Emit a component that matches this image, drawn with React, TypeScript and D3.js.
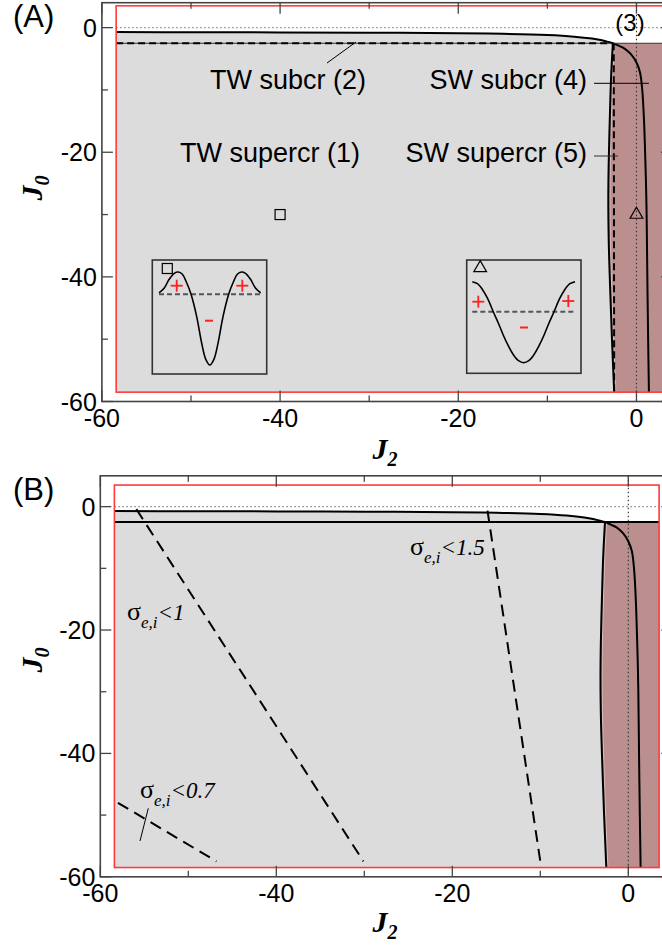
import React from 'react';
import * as d3 from 'd3';

// ---------- data ----------
const J2_MAJOR = [-60, -40, -20, 0];
const J2_MINOR = [-50, -30, -10];
const J0_MAJOR = [0, -20, -40, -60];
const J0_MINOR = [-10, -30, -50];

const RECT_J2 = [-58.4, 3.5];
const RECT_J0 = [-58.5, 3.5];

// upper solid boundary (TW/SW): J2 increasing
const upperJ2 = [-58.4, -50, -40, -30, -20, -15, -10, -7, -5, -4, -3.3, -2.65, -2.0, -1.3, -0.6, 0, 0.4, 0.65, 0.85, 0.97, 1.07, 1.14, 1.22, 1.31, 1.4];
const upperJ0 = [-0.72, -0.74, -0.77, -0.82, -0.9, -1.0, -1.2, -1.45, -1.75, -2.0, -2.25, -2.5, -2.9, -3.4, -4.3, -5.6, -7.2, -10, -15, -20, -25, -30, -40, -50, -58.5];

// left vertical solid boundary
const leftJ2 = [-2.65, -2.85, -3.0, -3.12, -3.16, -3.1, -2.95, -2.75, -2.5];
const leftJ0 = [-2.5, -8, -15, -22, -28, -35, -42, -50, -58.5];

const HLINE_J0 = -2.5;
const dashVJ2 = [-2.55, -2.5];
const dashVJ0 = [-2.5, -58.5];

// sigma contours (panel B)
const sig15J2 = [-16, -10];
const sig15J0 = [-0.65, -57.5];
const sig1J2 = [-55.9, -30.1];
const sig1J0 = [-0.4, -57.5];
const sig07J2 = [-58, -46.8];
const sig07J0 = [-48, -57.5];

// markers
const squareJ2 = -40, squareJ0 = -30;
const triJ2 = 0, triJ0 = -30;

// insets (profiles)
const inset1U = [0, 0.05, 0.10, 0.15, 0.19, 0.23, 0.27, 0.315, 0.37, 0.42, 0.46, 0.5, 0.54, 0.58, 0.63, 0.685, 0.73, 0.77, 0.81, 0.85, 0.90, 0.95, 1];
const inset1V = [1.5, 6, 15, 21, 22.3, 20, 12, 0, -22, -49, -65, -70.7, -65, -49, -22, 0, 12, 20, 22.3, 21, 15, 6, 1.5];
const inset2U = [0, 0.05, 0.1, 0.15, 0.204, 0.25, 0.3, 0.35, 0.4, 0.45, 0.5, 0.55, 0.6, 0.65, 0.7, 0.75, 0.796, 0.85, 0.9, 0.95, 1];
const inset2V = [30, 28, 22, 13, 0, -10.5, -23, -34, -43, -49, -51, -49, -43, -34, -23, -10.5, 0, 13, 22, 28, 30];

// ---------- styles ----------
const GRAY = '#dcdcdc';
const BROWN = '#bc8f8f';
const RED = '#ff3b3b';
const AXIS = '#444';
const SANS = '"Liberation Sans", Arial, sans-serif';
const SERIF = '"Liberation Serif", "Times New Roman", serif';

type PanelProps = {
  kind: 'A' | 'B';
  xDomain: [number, number];
  xRange: [number, number];
  yDomain: [number, number];
  yRange: [number, number];
};

const zip = (a: number[], b: number[]) => a.map((v, i) => [v, b[i]] as [number, number]);

function Panel({ kind, xDomain, xRange, yDomain, yRange }: PanelProps) {
  const x = d3.scaleLinear().domain(xDomain).range(xRange);
  const y = d3.scaleLinear().domain(yDomain).range(yRange);
  const line = d3.line<[number, number]>().x(d => x(d[0])).y(d => y(d[1]));
  const curve = d3.line<[number, number]>().x(d => x(d[0])).y(d => y(d[1])).curve(d3.curveCatmullRom.alpha(0.5));

  const upper = zip(upperJ2, upperJ0);
  const left = zip(leftJ2, leftJ0);
  const upperLeftPart = upper.filter(p => p[0] <= -2.65);

  const grayPoly: [number, number][] = [
    ...upperLeftPart,
    ...left.slice(1),
    [RECT_J2[0], RECT_J0[0]],
  ];
  const brownPoly: [number, number][] = [
    [leftJ2[0], HLINE_J0],
    [RECT_J2[1], HLINE_J0],
    [RECT_J2[1], RECT_J0[0]],
    ...left.slice().reverse(),
  ];

  const xl = x(xDomain[0]);
  const xr = x(xDomain[1]);
  const yb = y(yDomain[0]);
  const yt = y(yDomain[1]);

  const area = d3.line<[number, number]>().x(d => x(d[0])).y(d => y(d[1])).curve(d3.curveLinear);

  const dy = kind === 'A' ? 0 : 473;

  return (
    <g>
      {/* fills */}
      <path d={(area(grayPoly) || '') + 'Z'} fill={GRAY} stroke="none" />
      <path d={(area(brownPoly) || '') + 'Z'} fill={BROWN} stroke="none" />
      {/* light seam next to the left boundary */}
      <path d={curve(left.map(p => [p[0] + 0.18, p[1]] as [number, number])) || ''} fill="none" stroke="#e9d6d6" strokeWidth={0.8} opacity={0.8} />

      {/* dotted reference lines */}
      <line x1={x(RECT_J2[0])} x2={x(RECT_J2[1])} y1={y(0)} y2={y(0)} stroke="#888" strokeWidth={1.4} strokeDasharray="1.5 2.5" />
      <line x1={x(0)} x2={x(0)} y1={yt} y2={yb} stroke="#333" strokeWidth={1.1} strokeDasharray="1.5 2.5" />

      {/* boundaries */}
      <path d={curve(upper) || ''} fill="none" stroke="#000" strokeWidth={2} />
      <path d={curve(left) || ''} fill="none" stroke="#000" strokeWidth={2} />
      {kind === 'A' ? (
        <g>
          <line x1={x(RECT_J2[0])} x2={x(RECT_J2[1])} y1={y(HLINE_J0)} y2={y(HLINE_J0)} stroke="#333" strokeWidth={1.1} />
          <line x1={x(RECT_J2[0])} x2={x(leftJ2[0])} y1={y(HLINE_J0)} y2={y(HLINE_J0)} stroke="#000" strokeWidth={2} strokeDasharray="7 4" />
          <path d={line(zip(dashVJ2, dashVJ0)) || ''} stroke="#000" strokeWidth={2} strokeDasharray="7 4" fill="none" />
        </g>
      ) : (
        <g>
          <line x1={x(RECT_J2[0])} x2={x(RECT_J2[1])} y1={y(HLINE_J0)} y2={y(HLINE_J0)} stroke="#000" strokeWidth={2} />
          <path d={line(zip(sig15J2, sig15J0)) || ''} stroke="#000" strokeWidth={2} strokeDasharray="12 7" fill="none" />
          <path d={line(zip(sig1J2, sig1J0)) || ''} stroke="#000" strokeWidth={2} strokeDasharray="12 7" fill="none" />
          <path d={line(zip(sig07J2, sig07J0)) || ''} stroke="#000" strokeWidth={2} strokeDasharray="12 7" fill="none" />
        </g>
      )}

      {/* red frame */}
      <rect x={x(RECT_J2[0])} y={y(RECT_J0[1])} width={x(RECT_J2[1]) - x(RECT_J2[0])} height={y(RECT_J0[0]) - y(RECT_J0[1])} fill="none" stroke={RED} strokeWidth={1.6} />

      {/* axes frame */}
      <rect x={xl} y={yt} width={xr - xl} height={yb - yt} fill="none" stroke={AXIS} strokeWidth={1.6} />
      {J2_MAJOR.map(t => (
        <g key={'xM' + t}>
          <line x1={x(t)} x2={x(t)} y1={yb} y2={yb - 11} stroke={AXIS} strokeWidth={1.3} />
          <line x1={x(t)} x2={x(t)} y1={yt} y2={yt + 11} stroke={AXIS} strokeWidth={1.3} />
          <text x={x(t)} y={yb + 25} textAnchor="middle" fontFamily={SANS} fontSize={25} fill="#000">{String(t)}</text>
        </g>
      ))}
      {J2_MINOR.map(t => (
        <g key={'xm' + t}>
          <line x1={x(t)} x2={x(t)} y1={yb} y2={yb - 6} stroke={AXIS} strokeWidth={1.3} />
          <line x1={x(t)} x2={x(t)} y1={yt} y2={yt + 6} stroke={AXIS} strokeWidth={1.3} />
        </g>
      ))}
      {J0_MAJOR.map(t => (
        <g key={'yM' + t}>
          <line x1={xl} x2={xl + 11} y1={y(t)} y2={y(t)} stroke={AXIS} strokeWidth={1.3} />
          <line x1={xr} x2={xr - 11} y1={y(t)} y2={y(t)} stroke={AXIS} strokeWidth={1.3} />
          <text x={xl - 5} y={y(t)} dy="0.36em" textAnchor="end" fontFamily={SANS} fontSize={25} fill="#000">{String(t)}</text>
        </g>
      ))}
      {J0_MINOR.map(t => (
        <g key={'ym' + t}>
          <line x1={xl} x2={xl + 6} y1={y(t)} y2={y(t)} stroke={AXIS} strokeWidth={1.3} />
          <line x1={xr} x2={xr - 6} y1={y(t)} y2={y(t)} stroke={AXIS} strokeWidth={1.3} />
        </g>
      ))}

      {/* axis titles */}
      <text x={385} y={kind === 'A' ? yb + 57 : yb + 55} textAnchor="middle" fontFamily={SERIF} fontStyle="italic" fontWeight="bold" fontSize={30}>
        J<tspan fontSize={20} dy={7}>2</tspan>
      </text>
      <text transform={`translate(42, ${kind === 'A' ? 188 : 660}) rotate(-90)`} textAnchor="middle" fontFamily={SERIF} fontStyle="italic" fontWeight="bold" fontSize={30}>
        J<tspan fontSize={20} dy={7}>0</tspan>
      </text>

      {/* panel letter */}
      <text x={13} y={27 + dy} fontFamily={SANS} fontSize={31}>{kind === 'A' ? '(A)' : '(B)'}</text>

      {kind === 'A' ? (
        <g fontFamily={SANS} fontSize={27} fill="#000">
          <text x={210} y={89}>TW subcr (2)</text>
          <text x={180} y={162}>TW supercr (1)</text>
          <text x={587} y={89} textAnchor="end">SW subcr (4)</text>
          <text x={587} y={162} textAnchor="end">SW supercr (5)</text>
          <text x={630} y={31} textAnchor="middle" fontSize={24}>(3)</text>
          <line x1={327} y1={63} x2={356} y2={42} stroke="#000" strokeWidth={1} />
          <line x1={594} y1={83.3} x2={649} y2={83.3} stroke="#000" strokeWidth={1} />
          <line x1={594} y1={156} x2={618} y2={156} stroke="#333" strokeWidth={1} />
          {/* markers */}
          <rect x={x(squareJ2) - 5} y={y(squareJ0) - 5} width={10} height={10} fill="none" stroke="#000" strokeWidth={1.2} />
          <path d={d3.symbol().type(d3.symbolTriangle).size(70)() || ''} transform={`translate(${x(triJ2)}, ${y(triJ0)})`} fill="none" stroke="#000" strokeWidth={1.2} />
        </g>
      ) : (
        <g fill="#000">
          <text x={410} y={555} fontFamily={SERIF} fontSize={26}>σ<tspan fontSize={17} fontStyle="italic" dy={8}>e,i</tspan><tspan fontSize={23} fontStyle="italic" dy={-8}>&lt;1.5</tspan></text>
          <text x={127} y={620} fontFamily={SERIF} fontSize={26}>σ<tspan fontSize={17} fontStyle="italic" dy={8}>e,i</tspan><tspan fontSize={23} fontStyle="italic" dy={-8}>&lt;1</tspan></text>
          <text x={140} y={798} fontFamily={SERIF} fontSize={26}>σ<tspan fontSize={17} fontStyle="italic" dy={8}>e,i</tspan><tspan fontSize={23} fontStyle="italic" dy={-8}>&lt;0.7</tspan></text>
          <line x1={148.3} y1={808.3} x2={140} y2={841} stroke="#000" strokeWidth={1} />
        </g>
      )}
    </g>
  );
}

function Inset({ box, u, v, uRange, base, marker, plus, minus }: {
  box: [number, number, number, number];
  u: number[]; v: number[];
  uRange: [number, number]; base: number;
  marker: 'square' | 'triangle';
  plus: [number, number][]; minus: [number, number];
}) {
  const xs = d3.scaleLinear().domain([0, 1]).range(uRange);
  const ys = d3.scaleLinear().domain([-100, 100]).range([base + 100, base - 100]);
  const ln = d3.line<[number, number]>().x(d => xs(d[0])).y(d => ys(d[1])).curve(d3.curveCatmullRom.alpha(0.5));
  const [bx, by, bw, bh] = box;
  return (
    <g>
      <rect x={bx} y={by} width={bw} height={bh} fill={GRAY} stroke="#333" strokeWidth={1.6} />
      <line x1={xs(0)} x2={xs(1)} y1={ys(0)} y2={ys(0)} stroke="#555" strokeWidth={2} strokeDasharray="5 3" />
      <path d={ln(zip(u, v)) || ''} fill="none" stroke="#000" strokeWidth={1.6} />
      {marker === 'square' ? (
        <rect x={bx + 10} y={by + 3.5} width={10} height={10} fill="none" stroke="#000" strokeWidth={1.2} />
      ) : (
        <path d={d3.symbol().type(d3.symbolTriangle).size(70)() || ''} transform={`translate(${bx + 13.5}, ${by + 8})`} fill="none" stroke="#000" strokeWidth={1.2} />
      )}
      {plus.map((p, i) => (
        <g key={i} stroke="#ff2020" strokeWidth={1.8}>
          <line x1={p[0] - 6} x2={p[0] + 6} y1={p[1]} y2={p[1]} />
          <line x1={p[0]} x2={p[0]} y1={p[1] - 6} y2={p[1] + 6} />
        </g>
      ))}
      <line x1={minus[0] - 4} x2={minus[0] + 4} y1={minus[1]} y2={minus[1]} stroke="#ff2020" strokeWidth={2} />
    </g>
  );
}

export default function App() {
  return (
    <svg width={662} height={947} viewBox="0 0 662 947" style={{ position: 'absolute', left: 0, top: 0, background: '#fff' }}>
      <rect x={0} y={0} width={662} height={947} fill="#fff" />
      <Panel kind="A" xDomain={[-60, 4]} xRange={[101.9, 672.1]} yDomain={[-60, 4]} yRange={[401.5, 2.7]} />
      <Inset box={[152.3, 260, 114.4, 114]} u={inset1U} v={inset1V} uRange={[159, 260.7]} base={294.3}
        marker="square" plus={[[176.7, 285.7], [242.3, 285.7]]} minus={[209, 320.7]} />
      <Inset box={[466.7, 260, 114.3, 113.3]} u={inset2U} v={inset2V} uRange={[472.3, 575]} base={311.7}
        marker="triangle" plus={[[478.3, 301.7], [568.3, 301]]} minus={[524, 327.5]} />
      <Panel kind="B" xDomain={[-60, 5]} xRange={[100.3, 672.3]} yDomain={[-60, 5]} yRange={[876.8, 475.8]} />
    </svg>
  );
}
